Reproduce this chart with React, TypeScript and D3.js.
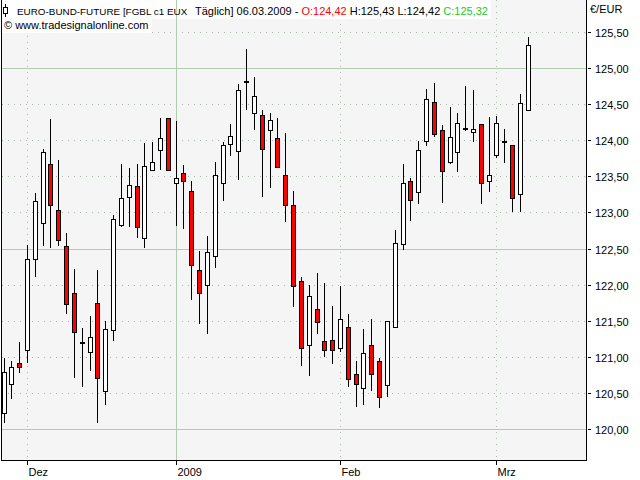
import React, { useEffect, useRef } from "react";
import * as d3 from "d3";

const dates: string[] = [
  "2008-11-26", "2008-11-27", "2008-11-28",
  "2008-12-01", "2008-12-02", "2008-12-03", "2008-12-04", "2008-12-05",
  "2008-12-08", "2008-12-09", "2008-12-10", "2008-12-11", "2008-12-12",
  "2008-12-15", "2008-12-16", "2008-12-17", "2008-12-18", "2008-12-19",
  "2008-12-22", "2008-12-23", "2008-12-29", "2008-12-30",
  "2009-01-02", "2009-01-05", "2009-01-06", "2009-01-07", "2009-01-08", "2009-01-09",
  "2009-01-12", "2009-01-13", "2009-01-14", "2009-01-15", "2009-01-16",
  "2009-01-19", "2009-01-20", "2009-01-21", "2009-01-22", "2009-01-23",
  "2009-01-26", "2009-01-27", "2009-01-28", "2009-01-29", "2009-01-30",
  "2009-02-02", "2009-02-03", "2009-02-04", "2009-02-05", "2009-02-06",
  "2009-02-09", "2009-02-10", "2009-02-11", "2009-02-12", "2009-02-13",
  "2009-02-16", "2009-02-17", "2009-02-18", "2009-02-19", "2009-02-20",
  "2009-02-23", "2009-02-24", "2009-02-25", "2009-02-26", "2009-02-27",
  "2009-03-02", "2009-03-03", "2009-03-04", "2009-03-05", "2009-03-06",
];

const open: number[] = [
  120.23, 120.63, 120.92, 121.10, 122.37, 122.86, 123.67, 123.04, 122.55, 121.90,
  121.21, 121.08, 121.75, 120.54, 121.38, 122.83, 123.22, 123.37, 122.66, 123.60,
  123.87, 124.31, 123.42, 123.55, 123.31, 122.21, 122.01, 122.41, 123.42, 123.95,
  123.85, 124.83, 124.38, 124.36, 124.14, 124.03, 123.52, 123.11, 122.06, 121.17,
  121.67, 121.23, 121.24, 121.13, 121.42, 120.77, 120.58, 121.17, 120.95, 120.62,
  121.43, 122.57, 123.44, 123.29, 123.99, 124.54, 124.14, 123.70, 123.84, 124.18,
  124.12, 124.23, 123.44, 123.80, 123.98, 123.94, 123.26, 124.42,
];
const high: number[] = [
  120.99, 120.95, 121.21, 122.56, 123.28, 123.89, 124.30, 123.73, 122.72, 122.22,
  121.41, 121.58, 122.21, 121.51, 122.97, 123.68, 123.62, 123.68, 123.97, 123.98,
  124.31, 124.31, 124.27, 123.66, 123.44, 122.47, 122.68, 123.71, 123.98, 124.23,
  124.78, 125.27, 124.88, 124.42, 124.38, 124.31, 124.11, 123.31, 122.12, 122.01,
  122.17, 122.03, 121.72, 121.99, 121.61, 120.95, 121.39, 121.53, 120.99, 121.50,
  122.77, 123.67, 123.48, 124.00, 124.71, 124.79, 124.21, 124.47, 124.38, 124.75,
  124.70, 124.23, 124.32, 124.34, 124.16, 123.94, 124.65, 125.43,
];
const low: number[] = [
  120.09, 120.43, 120.79, 120.93, 122.12, 122.55, 122.51, 122.55, 121.61, 120.72,
  120.59, 120.82, 120.09, 120.34, 121.23, 122.80, 122.80, 122.66, 122.52, 123.58,
  123.59, 123.60, 122.82, 122.78, 121.80, 121.46, 121.32, 122.24, 123.17, 123.79,
  123.46, 124.43, 124.14, 123.22, 123.34, 123.63, 122.87, 121.70, 120.89, 120.74,
  121.32, 121.01, 120.91, 121.08, 120.60, 120.32, 120.34, 120.54, 120.31, 120.46,
  121.41, 122.49, 122.89, 123.13, 123.93, 124.05, 123.14, 123.67, 123.56, 124.13,
  123.98, 123.13, 123.29, 123.76, 123.69, 123.01, 123.02, 124.42,
];
const close: number[] = [
  120.80, 120.87, 120.87, 122.36, 123.16, 123.84, 123.11, 122.62, 121.74, 121.36,
  121.21, 121.28, 120.72, 121.39, 122.91, 123.20, 123.38, 122.80, 123.65, 123.71,
  124.03, 123.60, 123.48, 123.44, 122.28, 121.90, 122.46, 123.53, 123.94, 124.07,
  124.70, 124.83, 124.61, 123.89, 124.28, 123.63, 123.11, 121.99, 121.13, 121.85,
  121.49, 121.10, 121.10, 121.54, 120.71, 120.63, 121.06, 120.77, 120.45, 121.50,
  122.59, 123.42, 123.18, 123.87, 124.57, 124.09, 123.58, 124.05, 124.24, 124.18,
  124.16, 123.42, 123.53, 124.24, 124.00, 123.20, 124.52, 125.32,
];

const yTicks: number[] = [120, 120.5, 121, 121.5, 122, 122.5, 123, 123.5, 124, 124.5, 125, 125.5];
const yMajorTicks: number[] = [120, 122.5, 125];
const monthTickDates: string[] = ["2008-12-01", "2009-01-02", "2009-02-02", "2009-03-02"];
const monthTickLabels: string[] = ["Dez", "2009", "Feb", "Mrz"];
const monthTickMajor: boolean[] = [false, true, false, false];

const headerName = "EURO-BUND-FUTURE [FGBL c1 EUX";
const headerRest = "Täglich] 06.03.2009 - ";
const headerO = "O:124,42";
const headerHL = " H:125,43 L:124,42 ";
const headerC = "C:125,32";
const copyright = "© www.tradesignalonline.com";
const unitLabel = "€/EUR";

const FONT = "Tahoma, 'Liberation Sans', Arial, sans-serif";
const PL = 1, PR = 586, PT = 0, PB = 460;

export default function App() {
  const h1 = useRef<SVGTextElement>(null);
  const h2 = useRef<SVGTextElement>(null);
  const bg1 = useRef<SVGRectElement>(null);
  const bg2 = useRef<SVGRectElement>(null);

  useEffect(() => {
    if (h1.current && bg1.current) {
      const b = h1.current.getBBox();
      d3.select(bg1.current).attr("width", Math.ceil(b.x + b.width + 2 - PL));
    }
    if (h2.current && bg2.current) {
      const b = h2.current.getBBox();
      d3.select(bg2.current).attr("width", Math.ceil(b.x + b.width + 2 - PL));
    }
  }, []);

  const x = d3.scalePoint<string>().domain(dates).range([4, 528.3]);
  const y = d3.scaleLinear().domain([119.585, 125.944]).range([PB, PT]);
  const px = (v: number) => Math.floor(v) + 0.5;
  const fmt = (v: number) => v.toFixed(2).replace(".", ",");

  const minorY = yTicks.filter((t) => !yMajorTicks.includes(t));

  return (
    <div style={{ position: "absolute", left: 0, top: 0 }}>
      <svg width={640} height={480} style={{ display: "block" }} fontFamily={FONT}>
        <rect x={0} y={0} width={640} height={480} fill="#ffffff" />
        <rect x={PL} y={PT} width={PR - PL} height={PB - PT} fill="#f5f5f5" />
        {/* dotted grid */}
        {minorY.map((t) => (
          <line key={"gy" + t} x1={PL + 1} x2={PR} y1={px(y(t))} y2={px(y(t))}
            stroke="#a6b8a6" strokeWidth={1} strokeDasharray="1,5" />
        ))}
        {monthTickDates.map((d, i) =>
          monthTickMajor[i] ? null : (
            <line key={"gx" + d} x1={px(x(d)!)} x2={px(x(d)!)} y1={PT} y2={PB}
              stroke="#a6b8a6" strokeWidth={1} strokeDasharray="1,5" />
          )
        )}
        {/* header backgrounds */}
        <rect ref={bg1} x={PL + 0.5} y={0} width={490} height={19} fill="#ffffff" />
        <rect ref={bg2} x={PL + 0.5} y={19} width={178} height={14} fill="#ffffff" />
        {/* solid grid */}
        {yMajorTicks.map((t) => (
          <line key={"my" + t} x1={PL + 1} x2={PR} y1={px(y(t))} y2={px(y(t))}
            stroke="#b3cbb3" strokeWidth={1} />
        ))}
        {monthTickDates.map((d, i) =>
          monthTickMajor[i] ? (
            <line key={"mx" + d} x1={px(x(d)!)} x2={px(x(d)!)} y1={PT} y2={PB}
              stroke="#b3cbb3" strokeWidth={1} />
          ) : null
        )}
        {/* candles */}
        {dates.map((d, i) => {
          const cx = px(x(d)!);
          const o = open[i], c = close[i], hi = high[i], lo = low[i];
          const top = Math.round(y(Math.max(o, c))) + 0.5;
          const bot = Math.round(y(Math.min(o, c))) + 0.5;
          const hgt = Math.max(1, bot - top);
          const up = c >= o;
          return (
            <g key={d}>
              <line x1={cx} x2={cx} y1={Math.round(y(hi))} y2={Math.round(y(lo))}
                stroke="#000" strokeWidth={1} />
              <rect x={cx - 2} y={top} width={4} height={hgt}
                fill={up ? "#ffffff" : "#ff0000"} stroke="#000" strokeWidth={1} />
            </g>
          );
        })}
        {/* header */}
        <g>
          <line x1={5.5} x2={5.5} y1={4} y2={17} stroke="#000" strokeWidth={1} />
          <rect x={3.5} y={7.5} width={4} height={6} fill="#ffffff" stroke="#000" strokeWidth={1} />
        </g>
        <text ref={h1} x={17} y={15} fontSize={11} fill="#000" style={{ whiteSpace: "pre" }}>
          <tspan x={17} fontSize={9.9}>{headerName}</tspan>
          <tspan x={195}>{headerRest}</tspan>
          <tspan fill="#ff0000">{headerO}</tspan>
          <tspan>{headerHL}</tspan>
          <tspan fill="#1ec81e">{headerC}</tspan>
        </text>
        <text ref={h2} x={4} y={29} fontSize={11} fill="#000">{copyright}</text>
        {/* frame */}
        <line x1={PL + 0.5} x2={PL + 0.5} y1={PT} y2={PB + 0.5} stroke="#000" />
        <line x1={PR + 0.5} x2={PR + 0.5} y1={PT} y2={PB + 0.5} stroke="#000" />
        <line x1={PL} x2={PR + 1} y1={PB + 0.5} y2={PB + 0.5} stroke="#000" />
        {/* y axis */}
        <text x={590} y={13} fontSize={11} fill="#000">{unitLabel}</text>
        {yTicks.map((t) => {
          const yy = px(y(t));
          return (
            <g key={"yt" + t}>
              <line x1={588} x2={591} y1={yy} y2={yy} stroke="#000" />
              <text x={595} y={yy + 4} fontSize={11} fill="#000">{fmt(t)}</text>
            </g>
          );
        })}
        {/* x axis */}
        {monthTickDates.map((d, i) => {
          const xx = px(x(d)!);
          return (
            <g key={"xt" + d}>
              <line x1={xx} x2={xx} y1={PB + 1} y2={PB + 5} stroke="#000" />
              <text x={xx + 1} y={476} fontSize={11} fill="#000">{monthTickLabels[i]}</text>
            </g>
          );
        })}
      </svg>
    </div>
  );
}
